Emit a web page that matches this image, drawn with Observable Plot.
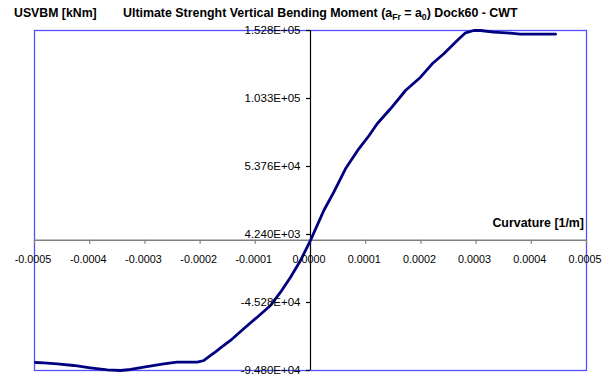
<!DOCTYPE html>
<html>
<head>
<meta charset="utf-8">
<script src="https://cdn.jsdelivr.net/npm/d3@7"></script>
<script src="https://cdn.jsdelivr.net/npm/@observablehq/plot@0.6"></script>
<style>
  body { margin: 0; background: #fff; }
  #wrap { position: relative; width: 615px; height: 376px; font-family: "Liberation Sans", Arial, sans-serif; }
  #wrap svg { position: absolute; left: 0; top: 0; }
  .t { position: absolute; font-weight: bold; line-height: 1; white-space: nowrap; color: #000; }
  .t sub { font-size: 0.7em; line-height: 0; vertical-align: -0.3em; }
</style>
</head>
<body>
<div id="wrap">
  <div class="t" style="left:14px; top:6.6px; font-size:12.3px;">USVBM [kNm]</div>
  <div class="t" style="left:123px; top:6.6px; font-size:12.4px;">Ultimate Strenght Vertical Bending Moment (a<sub>Fr</sub> = a<sub>0</sub>) Dock60 - CWT</div>
  <div class="t" style="right:31px; top:216.5px; font-size:12.4px;">Curvature [1/m]</div>
</div>
<script>
// Curvature [1/m]
const curvature = [
  -0.000498, -0.000483, -0.000459, -0.000429, -0.000399, -0.000368, -0.000344,
  -0.000326, -0.000302, -0.000266, -0.000242, -0.000205, -0.000193, -0.000187,
  -0.000181, -0.000172, -0.000163, -0.000145, -0.000121, -0.0000966, -0.0000725,
  -0.0000543, -0.0000362, -0.0000181, 0,
  0.0000241, 0.0000422, 0.0000634, 0.0000875, 0.0001062, 0.0001208, 0.0001449,
  0.0001721, 0.0001993, 0.0002205, 0.0002415, 0.0002658, 0.0002808, 0.0002958,
  0.000308, 0.000332, 0.000362, 0.000380, 0.000444
];
// USVBM [kNm]
const moment = [
  -88960, -89180, -89910, -91150, -92820, -94290, -94800,
  -94060, -92390, -89910, -88740, -88740, -87510, -85690,
  -83870, -81170, -78400, -72940, -64420, -55980, -47460,
  -37770, -26850, -14690, 0,
  21720, 35050, 52090, 66650, 76340, 84860, 95780,
  109110, 118790, 128550, 135830, 145520, 151130, 152800,
  152800, 151560, 150830, 150110, 150110
];

const xTicks = [-0.0005, -0.0004, -0.0003, -0.0002, -0.0001, 0, 0.0001, 0.0002, 0.0003, 0.0004, 0.0005];
const xTickLabels = ["-0.0005", "-0.0004", "-0.0003", "-0.0002", "-0.0001", "0.0000", "0.0001", "0.0002", "0.0003", "0.0004", "0.0005"];
const yTicks = [-94800, -45280, 4240, 53760, 103280, 152800];
const yTickLabels = ["-9.480E+04", "-4.528E+04", "4.240E+03", "5.376E+04", "1.033E+05", "1.528E+05"];

const points = curvature.map((c, i) => ({x: c, y: moment[i]}));

const chart = Plot.plot({
  width: 615,
  height: 376,
  marginLeft: 34,
  marginRight: 29,
  marginTop: 30,
  marginBottom: 6,
  style: {fontFamily: "'Liberation Sans', Arial, sans-serif", background: "white", overflow: "visible", color: "black"},
  x: {domain: [-0.0005, 0.0005], axis: null},
  y: {domain: [-94800, 152800], axis: null},
  marks: [
    Plot.frame({stroke: "#5050ff", strokeWidth: 1.3}),
    Plot.ruleY([0], {stroke: "#808080", strokeWidth: 1.6}),
    Plot.ruleX(xTicks, {y1: 0, y2: 0, insetBottom: -4, stroke: "#808080", strokeWidth: 1.2}),
    Plot.ruleX([0], {stroke: "black", strokeWidth: 1.2}),
    Plot.ruleY(yTicks, {x1: 0, x2: 0, insetLeft: -4, stroke: "black", strokeWidth: 1.2}),
    Plot.line(points, {x: "x", y: "y", stroke: "#000080", strokeWidth: 2.8}),
    Plot.text(xTicks, {x: d => d, y: 0, text: (d, i) => xTickLabels[i], dy: 19, dx: -1.5, fontSize: 10.8, fill: "black"}),
    Plot.text(yTicks, {x: 0, y: d => d, text: (d, i) => yTickLabels[i], textAnchor: "end", dx: -10, fontSize: 11.5, fill: "black"})
  ]
});
document.getElementById("wrap").prepend(chart);
</script>
</body>
</html>
